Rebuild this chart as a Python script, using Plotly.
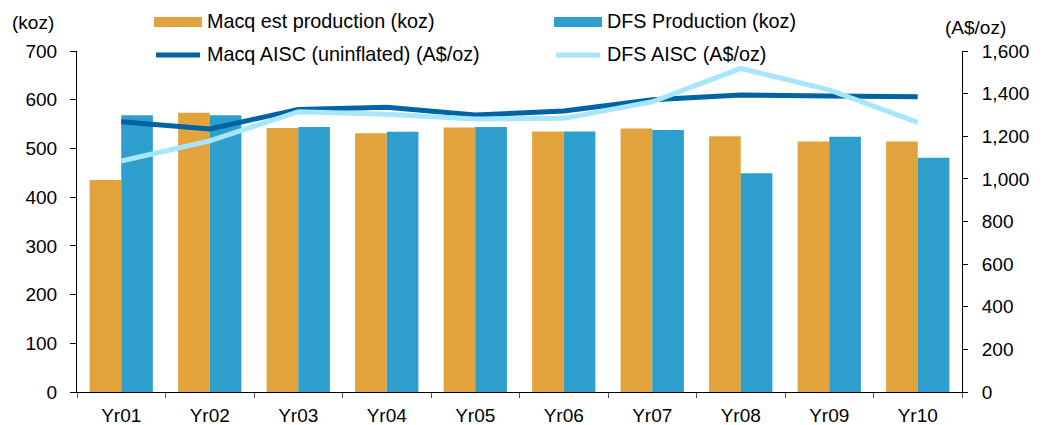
import plotly.graph_objects as go

categories = ["Yr01", "Yr02", "Yr03", "Yr04", "Yr05", "Yr06", "Yr07", "Yr08", "Yr09", "Yr10"]
macq_prod = [435, 573, 542, 531, 543, 535, 541, 525, 514, 514]
dfs_prod = [568, 568, 544, 534, 544, 535, 538, 449, 524, 481]
macq_aisc = [1268, 1234, 1326, 1336, 1300, 1318, 1371, 1394, 1389, 1385]
dfs_aisc = [1084, 1178, 1315, 1303, 1281, 1284, 1362, 1518, 1418, 1265]

series_names = ["Macq est production (koz)", "DFS Production (koz)",
                "Macq AISC (uninflated) (A$/oz)", "DFS AISC (A$/oz)"]
left_title = "(koz)"
right_title = "(A$/oz)"

C_ORANGE = "#E3A33C"
C_BLUE = "#2E9FCD"
C_DARK = "#0063A3"
C_LIGHT = "#A7E6FB"
FONT = "Liberation Sans, Arial, sans-serif"
FS = 19
FS_LEG = 19.8

W, H = 1045, 425
L, R, T, B = 77, 83, 51, 33
PW, PH = W - L - R, H - T - B


def px(x):
    return (x - L) / PW


def py(y):
    return (H - B - y) / PH


fig = go.Figure()
fig.add_trace(go.Bar(x=categories, y=macq_prod, name=series_names[0],
                     marker=dict(color=C_ORANGE, line=dict(width=0)), yaxis="y"))
fig.add_trace(go.Bar(x=categories, y=dfs_prod, name=series_names[1],
                     marker=dict(color=C_BLUE, line=dict(width=0)), yaxis="y"))
fig.add_trace(go.Scatter(x=categories, y=macq_aisc, name=series_names[2], mode="lines",
                         line=dict(color=C_DARK, width=5), yaxis="y2"))
fig.add_trace(go.Scatter(x=categories, y=dfs_aisc, name=series_names[3], mode="lines",
                         line=dict(color=C_LIGHT, width=5), yaxis="y2"))

shapes = []
annotations = []
# manual legend
legend_items = [
    (series_names[0], "bar", C_ORANGE, 154, 22),
    (series_names[1], "bar", C_BLUE, 554, 22),
    (series_names[2], "line", C_DARK, 154, 55),
    (series_names[3], "line", C_LIGHT, 554, 55),
]
for name, kind, color, x0, yc in legend_items:
    if kind == "bar":
        shapes.append(dict(type="rect", xref="paper", yref="paper",
                           x0=px(x0), x1=px(x0 + 48), y0=py(yc - 5), y1=py(yc + 5),
                           fillcolor=color, line=dict(width=0)))
    else:
        shapes.append(dict(type="line", xref="paper", yref="paper",
                           x0=px(x0 + 2), x1=px(x0 + 46), y0=py(yc), y1=py(yc),
                           line=dict(color=color, width=5)))
    annotations.append(dict(text=name, xref="paper", yref="paper", x=px(x0 + 51), y=py(yc - 1),
                            xanchor="left", yanchor="middle", showarrow=False,
                            font=dict(family=FONT, size=FS_LEG, color="black")))

annotations.append(dict(text=left_title, xref="paper", yref="paper", x=px(10), y=py(22),
                        xanchor="left", yanchor="middle", showarrow=False,
                        font=dict(family=FONT, size=FS, color="black")))
annotations.append(dict(text=right_title, xref="paper", yref="paper", x=px(943), y=py(27),
                        xanchor="left", yanchor="middle", showarrow=False,
                        font=dict(family=FONT, size=FS, color="black")))

fig.update_layout(
    width=W, height=H,
    margin=dict(l=L, r=R, t=T, b=B, autoexpand=False),
    paper_bgcolor="white", plot_bgcolor="white",
    font=dict(family=FONT, size=FS, color="black"),
    barmode="group", bargap=0.285, bargroupgap=0,
    showlegend=False,
    shapes=shapes, annotations=annotations,
    xaxis=dict(showline=True, linecolor="black", linewidth=1, ticks="outside",
               tickson="boundaries", ticklen=5, tickcolor="#555555", showgrid=False,
               ticklabelstandoff=6, tickfont=dict(size=FS)),
    yaxis=dict(range=[0, 700], dtick=100, showline=True, linecolor="black", linewidth=1,
               ticks="outside", ticklen=6, tickcolor="black", showgrid=False, zeroline=False,
               ticklabelstandoff=9, tickfont=dict(size=FS)),
    yaxis2=dict(range=[0, 1600], dtick=200, overlaying="y", side="right", showline=True,
                linecolor="black", linewidth=1, ticks="outside", ticklen=5, tickcolor="black",
                showgrid=False, zeroline=False, tickformat=",", ticklabelstandoff=10,
                tickfont=dict(size=FS)),
)

fig.write_html("out.html", config={"displayModeBar": False},
               post_script="document.body.style.margin='0px';document.body.style.overflow='hidden';")
